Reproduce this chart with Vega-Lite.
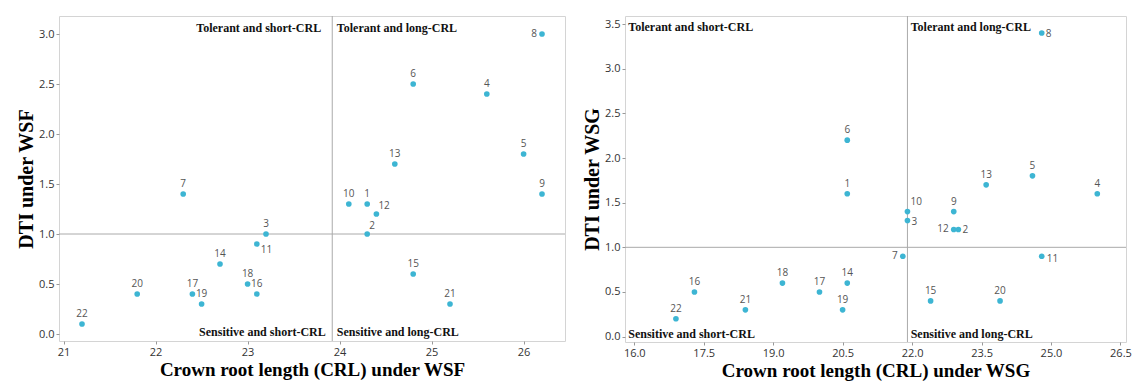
{
  "$schema": "https://vega.github.io/schema/vega-lite/v6.json",
  "padding": {"left": 16, "top": 15, "right": 2, "bottom": 3},
  "spacing": 16,
  "config": {
    "view": {"stroke": "#d4d4d4"},
    "axis": {"grid": false, "domain": false, "tickSize": 3, "tickColor": "#999", "labelFont": "Open Sans", "labelFontSize": 11, "labelColor": "#333", "labelPadding": 2, "titleFont": "Liberation Serif", "titleFontWeight": "bold", "titleFontSize": 20, "titleColor": "#000", "titlePadding": 2},
    "axisX": {"titleFontSize": 19, "titlePadding": 3}
  },
  "datasets": {
    "wsf": [
      {"id": "1", "crl": 24.3, "dti": 1.3, "pos": "above"},
      {"id": "2", "crl": 24.3, "dti": 1.0, "pos": "rightup"},
      {"id": "3", "crl": 23.2, "dti": 1.0, "pos": "above"},
      {"id": "4", "crl": 25.6, "dti": 2.4, "pos": "above"},
      {"id": "5", "crl": 26.0, "dti": 1.8, "pos": "above"},
      {"id": "6", "crl": 24.8, "dti": 2.5, "pos": "above"},
      {"id": "7", "crl": 22.3, "dti": 1.4, "pos": "above"},
      {"id": "8", "crl": 26.2, "dti": 3.0, "pos": "left"},
      {"id": "9", "crl": 26.2, "dti": 1.4, "pos": "above"},
      {"id": "10", "crl": 24.1, "dti": 1.3, "pos": "above"},
      {"id": "11", "crl": 23.1, "dti": 0.9, "pos": "rightdown"},
      {"id": "12", "crl": 24.4, "dti": 1.2, "pos": "rightup"},
      {"id": "13", "crl": 24.6, "dti": 1.7, "pos": "above"},
      {"id": "14", "crl": 22.7, "dti": 0.7, "pos": "above"},
      {"id": "15", "crl": 24.8, "dti": 0.6, "pos": "above"},
      {"id": "16", "crl": 23.1, "dti": 0.4, "pos": "above"},
      {"id": "17", "crl": 22.4, "dti": 0.4, "pos": "above"},
      {"id": "18", "crl": 23.0, "dti": 0.5, "pos": "above"},
      {"id": "19", "crl": 22.5, "dti": 0.3, "pos": "above"},
      {"id": "20", "crl": 21.8, "dti": 0.4, "pos": "above"},
      {"id": "21", "crl": 25.2, "dti": 0.3, "pos": "above"},
      {"id": "22", "crl": 21.2, "dti": 0.1, "pos": "above"}
    ],
    "wsg": [
      {"id": "1", "crl": 20.6, "dti": 1.6, "pos": "above"},
      {"id": "2", "crl": 23.0, "dti": 1.2, "pos": "right"},
      {"id": "3", "crl": 21.9, "dti": 1.3, "pos": "right"},
      {"id": "4", "crl": 26.0, "dti": 1.6, "pos": "above"},
      {"id": "5", "crl": 24.6, "dti": 1.8, "pos": "above"},
      {"id": "6", "crl": 20.6, "dti": 2.2, "pos": "above"},
      {"id": "7", "crl": 21.8, "dti": 0.9, "pos": "left"},
      {"id": "8", "crl": 24.8, "dti": 3.4, "pos": "right"},
      {"id": "9", "crl": 22.9, "dti": 1.4, "pos": "above"},
      {"id": "10", "crl": 21.9, "dti": 1.4, "pos": "rightup"},
      {"id": "11", "crl": 24.8, "dti": 0.9, "pos": "rightdown"},
      {"id": "12", "crl": 22.9, "dti": 1.2, "pos": "left"},
      {"id": "13", "crl": 23.6, "dti": 1.7, "pos": "above"},
      {"id": "14", "crl": 20.6, "dti": 0.6, "pos": "above"},
      {"id": "15", "crl": 22.4, "dti": 0.4, "pos": "above"},
      {"id": "16", "crl": 17.3, "dti": 0.5, "pos": "above"},
      {"id": "17", "crl": 20.0, "dti": 0.5, "pos": "above"},
      {"id": "18", "crl": 19.2, "dti": 0.6, "pos": "above"},
      {"id": "19", "crl": 20.5, "dti": 0.3, "pos": "above"},
      {"id": "20", "crl": 23.9, "dti": 0.4, "pos": "above"},
      {"id": "21", "crl": 18.4, "dti": 0.3, "pos": "above"},
      {"id": "22", "crl": 16.9, "dti": 0.2, "pos": "above"}
    ],
    "q_wsf_r": [
      {"crl": 23.8, "dti": 3.06, "t": "Tolerant and short-CRL"},
      {"crl": 23.85, "dti": 0.02, "t": "Sensitive and short-CRL"}
    ],
    "q_wsf_l": [
      {"crl": 23.97, "dti": 3.06, "t": "Tolerant and long-CRL"},
      {"crl": 23.97, "dti": 0.02, "t": "Sensitive and long-CRL"}
    ],
    "q_wsg_l": [
      {"crl": 15.87, "dti": 3.47, "t": "Tolerant and short-CRL"},
      {"crl": 21.97, "dti": 3.47, "t": "Tolerant and long-CRL"},
      {"crl": 15.87, "dti": 0.03, "t": "Sensitive and short-CRL"},
      {"crl": 21.97, "dti": 0.03, "t": "Sensitive and long-CRL"}
    ]
  },
  "hconcat": [
    {
      "width": 506,
      "height": 325,
      "layer": [
        {
          "data": {"values": [{}]},
          "mark": {"type": "rule", "color": "#aaaaaa", "strokeWidth": 1},
          "encoding": {"y": {"datum": 1.0, "type": "quantitative"}}
        },
        {
          "data": {"values": [{}]},
          "mark": {"type": "rule", "color": "#aaaaaa", "strokeWidth": 1},
          "encoding": {"x": {"datum": 23.92, "type": "quantitative"}}
        },
        {
          "data": {"name": "wsf"},
          "mark": {"type": "circle", "size": 32, "color": "#3db5d3", "opacity": 1},
          "encoding": {
            "x": {"field": "crl", "type": "quantitative", "scale": {"domain": [20.95, 26.45], "nice": false, "zero": false}, "axis": {"values": [21, 22, 23, 24, 25, 26], "format": "d", "title": "Crown root length (CRL) under WSF"}},
            "y": {"field": "dti", "type": "quantitative", "scale": {"domain": [-0.07, 3.18], "nice": false, "zero": false}, "axis": {"values": [0, 0.5, 1, 1.5, 2, 2.5, 3], "format": ".1f", "title": "DTI under WSF"}}
          }
        },
        {
          "data": {"name": "wsf"},
          "transform": [{"filter": "datum.pos == 'above'"}],
          "mark": {"type": "text", "font": "Open Sans", "fontSize": 10, "color": "#555", "dy": -10, "align": "center", "baseline": "middle"},
          "encoding": {"x": {"field": "crl", "type": "quantitative"}, "y": {"field": "dti", "type": "quantitative"}, "text": {"field": "id"}}
        },
        {
          "data": {"name": "wsf"},
          "transform": [{"filter": "datum.pos == 'left'"}],
          "mark": {"type": "text", "font": "Open Sans", "fontSize": 10, "color": "#555", "dx": -5, "dy": 0, "align": "right", "baseline": "middle"},
          "encoding": {"x": {"field": "crl", "type": "quantitative"}, "y": {"field": "dti", "type": "quantitative"}, "text": {"field": "id"}}
        },
        {
          "data": {"name": "wsf"},
          "transform": [{"filter": "datum.pos == 'rightup'"}],
          "mark": {"type": "text", "font": "Open Sans", "fontSize": 10, "color": "#555", "dx": 2, "dy": -8, "align": "left", "baseline": "middle"},
          "encoding": {"x": {"field": "crl", "type": "quantitative"}, "y": {"field": "dti", "type": "quantitative"}, "text": {"field": "id"}}
        },
        {
          "data": {"name": "wsf"},
          "transform": [{"filter": "datum.pos == 'rightdown'"}],
          "mark": {"type": "text", "font": "Open Sans", "fontSize": 10, "color": "#555", "dx": 4, "dy": 6, "align": "left", "baseline": "middle"},
          "encoding": {"x": {"field": "crl", "type": "quantitative"}, "y": {"field": "dti", "type": "quantitative"}, "text": {"field": "id"}}
        },
        {
          "data": {"name": "q_wsf_r"},
          "mark": {"type": "text", "font": "Liberation Serif", "fontWeight": "bold", "fontSize": 12, "color": "#111", "align": "right", "baseline": "middle"},
          "encoding": {"x": {"field": "crl", "type": "quantitative"}, "y": {"field": "dti", "type": "quantitative"}, "text": {"field": "t"}}
        },
        {
          "data": {"name": "q_wsf_l"},
          "mark": {"type": "text", "font": "Liberation Serif", "fontWeight": "bold", "fontSize": 12, "color": "#111", "align": "left", "baseline": "middle"},
          "encoding": {"x": {"field": "crl", "type": "quantitative"}, "y": {"field": "dti", "type": "quantitative"}, "text": {"field": "t"}}
        }
      ]
    },
    {
      "width": 501,
      "height": 326,
      "layer": [
        {
          "data": {"values": [{}]},
          "mark": {"type": "rule", "color": "#aaaaaa", "strokeWidth": 1},
          "encoding": {"y": {"datum": 1.0, "type": "quantitative"}}
        },
        {
          "data": {"values": [{}]},
          "mark": {"type": "rule", "color": "#aaaaaa", "strokeWidth": 1},
          "encoding": {"x": {"datum": 21.9, "type": "quantitative"}}
        },
        {
          "data": {"name": "wsg"},
          "mark": {"type": "circle", "size": 32, "color": "#3db5d3", "opacity": 1},
          "encoding": {
            "x": {"field": "crl", "type": "quantitative", "scale": {"domain": [15.8, 26.62], "nice": false, "zero": false}, "axis": {"values": [16, 17.5, 19, 20.5, 22, 23.5, 25, 26.5], "format": ".1f", "title": "Crown root length (CRL) under WSG"}},
            "y": {"field": "dti", "type": "quantitative", "scale": {"domain": [-0.06, 3.59], "nice": false, "zero": false}, "axis": {"values": [0, 0.5, 1, 1.5, 2, 2.5, 3, 3.5], "format": ".1f", "title": "DTI under WSG"}}
          }
        },
        {
          "data": {"name": "wsg"},
          "transform": [{"filter": "datum.pos == 'above'"}],
          "mark": {"type": "text", "font": "Open Sans", "fontSize": 10, "color": "#555", "dy": -10, "align": "center", "baseline": "middle"},
          "encoding": {"x": {"field": "crl", "type": "quantitative"}, "y": {"field": "dti", "type": "quantitative"}, "text": {"field": "id"}}
        },
        {
          "data": {"name": "wsg"},
          "transform": [{"filter": "datum.pos == 'left'"}],
          "mark": {"type": "text", "font": "Open Sans", "fontSize": 10, "color": "#555", "dx": -5, "dy": 0, "align": "right", "baseline": "middle"},
          "encoding": {"x": {"field": "crl", "type": "quantitative"}, "y": {"field": "dti", "type": "quantitative"}, "text": {"field": "id"}}
        },
        {
          "data": {"name": "wsg"},
          "transform": [{"filter": "datum.pos == 'right'"}],
          "mark": {"type": "text", "font": "Open Sans", "fontSize": 10, "color": "#555", "dx": 4, "dy": 1, "align": "left", "baseline": "middle"},
          "encoding": {"x": {"field": "crl", "type": "quantitative"}, "y": {"field": "dti", "type": "quantitative"}, "text": {"field": "id"}}
        },
        {
          "data": {"name": "wsg"},
          "transform": [{"filter": "datum.pos == 'rightup'"}],
          "mark": {"type": "text", "font": "Open Sans", "fontSize": 10, "color": "#555", "dx": 3, "dy": -10, "align": "left", "baseline": "middle"},
          "encoding": {"x": {"field": "crl", "type": "quantitative"}, "y": {"field": "dti", "type": "quantitative"}, "text": {"field": "id"}}
        },
        {
          "data": {"name": "wsg"},
          "transform": [{"filter": "datum.pos == 'rightdown'"}],
          "mark": {"type": "text", "font": "Open Sans", "fontSize": 10, "color": "#555", "dx": 5, "dy": 3, "align": "left", "baseline": "middle"},
          "encoding": {"x": {"field": "crl", "type": "quantitative"}, "y": {"field": "dti", "type": "quantitative"}, "text": {"field": "id"}}
        },
        {
          "data": {"name": "q_wsg_l"},
          "mark": {"type": "text", "font": "Liberation Serif", "fontWeight": "bold", "fontSize": 12, "color": "#111", "align": "left", "baseline": "middle"},
          "encoding": {"x": {"field": "crl", "type": "quantitative"}, "y": {"field": "dti", "type": "quantitative"}, "text": {"field": "t"}}
        }
      ]
    }
  ]
}
